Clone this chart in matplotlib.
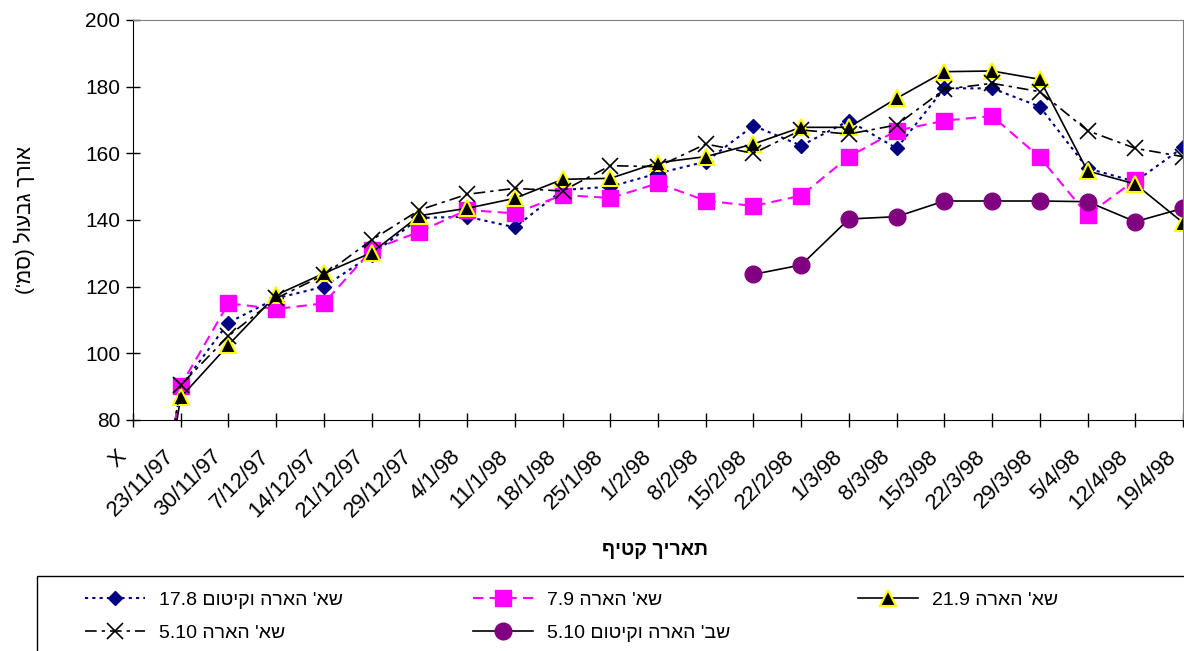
import re
import numpy as np
import matplotlib
matplotlib.use('Agg')
import matplotlib.pyplot as plt
import matplotlib.transforms as mtransforms
from matplotlib.patches import Rectangle

plt.rcParams['font.family'] = ['Liberation Sans', 'DejaVu Sans']

nan = np.nan

# harvest dates (first category is the "X" placeholder)
dates = ['X', '23/11/97', '30/11/97', '7/12/97', '14/12/97', '21/12/97', '29/12/97',
         '4/1/98', '11/1/98', '18/1/98', '25/1/98', '1/2/98', '8/2/98', '15/2/98',
         '22/2/98', '1/3/98', '8/3/98', '15/3/98', '22/3/98', '29/3/98', '5/4/98',
         '12/4/98', '19/4/98']

# stem length (cm) per planting
s_178 = [0, 90, 109.2, 116.5, 120, 129.5, 140.6, 141, 137.8, 149, 150, 154, 157.5,
         168.3, 162.3, 169.8, 161.5, 179.5, 179.5, 174, 155.5, 151.5, 161.8]
s_79 = [0, 90.3, 115, 113.3, 115, 131, 136.5, 143, 142, 147.5, 146.6, 151, 145.8,
        144.2, 147.3, 159, 166.8, 169.8, 171.2, 158.8, 141.5, 152, nan]
s_219 = [0, 86.8, 102.5, 117.5, 124, 130.2, 141.3, 143.5, 146.5, 152.2, 152.5, 157.2, 159,
         162.8, 167.8, 167.8, 176.5, 184.5, 184.7, 182.2, 154.7, 150.8, 139.2]
s_510 = [0, 90.5, 105.2, 116.5, 123.5, 134, 143, 147.7, 149.5, 148.7, 156.3, 156, 162.8,
         160, 167, 165.8, 168.5, 179.2, 181, 178.5, 166.8, 161.5, 159]
s_510b = [nan] * 13 + [123.7, 126.5, 140.3, 141, 145.7, 145.7, 145.7, 145.5, 139.5, 143.5]

names = ["שא' הארה וקיטום 17.8", "שא' הארה 7.9", "שא' הארה 21.9",
         "שא' הארה 5.10", "שב' הארה וקיטום 5.10"]


def heb(s):
    # matplotlib has no bidi support: lay the Hebrew out in visual order
    out = s[::-1]
    out = re.sub(r'[0-9.]+', lambda m: m.group(0)[::-1], out)
    return out.translate(str.maketrans('()', ')('))


W, H = 1184, 651
fig = plt.figure(figsize=(W / 100, H / 100), dpi=100)
ax = fig.add_axes([133 / W, 1 - 420 / H, 1050 / W, 400 / H])

x = np.arange(len(dates))
l1, = ax.plot(x, s_178, color='#000080', ls=(0, (1.5, 2)), lw=1.5, marker='D', ms=7.5,
              mfc='#000080', mec='#000080', label=heb(names[0]))
l2, = ax.plot(x, s_79, color='#FF00FF', ls=(0, (5, 3)), lw=1.5, marker='s', ms=11.5,
              mfc='#FF00FF', mec='#FF00FF', label=heb(names[1]))
l3, = ax.plot(x, s_219, color='black', lw=1.2, marker='^', ms=11, mfc='black',
              mec='#FFFF00', mew=1.5, label=heb(names[2]))
l4, = ax.plot(x, s_510, color='black', ls=(0, (7, 3, 2, 3)), lw=1.2, marker='x', ms=11,
              mew=1.2, label=heb(names[3]))
l5, = ax.plot(x, s_510b, color='black', lw=1.2, marker='o', ms=12, mfc='#800080',
              mec='#800080', label=heb(names[4]))

ax.set_xlim(0, len(dates) - 1)
ax.set_ylim(80, 200)
ax.set_yticks(np.arange(80, 201, 20))
ax.set_xticks(x)
ax.set_xticklabels(dates, rotation=45, ha='right', va='center', rotation_mode='anchor',
                   fontsize=16)
ax.tick_params(axis='both', direction='inout', length=10, width=1)
ax.tick_params(axis='y', pad=4, labelsize=15)
ax.tick_params(axis='x', pad=19)

# nudge the slanted date labels left so they end just before their tick
shift = mtransforms.ScaledTranslation(-0.10, 0, fig.dpi_scale_trans)
for lab in ax.get_xticklabels():
    lab.set_transform(lab.get_transform() + shift)

for side in ['top', 'right']:
    ax.spines[side].set_color('#808080')
for side in ['left', 'bottom']:
    ax.spines[side].set_color('black')

ax.set_ylabel(heb("אורך גבעול (סמ')"), fontsize=15)
ax.yaxis.set_label_coords(-0.093, 0.5)
ax.set_xlabel(heb('תאריך קטיף'), fontsize=14, fontweight='bold')
ax.xaxis.set_label_coords(0.497, -0.305)

# legend box, cut by the figure edges like the original
fig.patches.append(Rectangle((37 / W, -0.05), 1.0, (651 - 576) / H + 0.05,
                             transform=fig.transFigure, fill=False, ec='black', lw=1))

cols = [([l1, l4], 85), ([l2, l5], 473), ([l3], 858)]
for handles, px in cols:
    fig.legend(handles=handles, loc='upper left', bbox_to_anchor=(px / W, 1 - 591 / H),
               frameon=False, borderpad=0, borderaxespad=0, fontsize=14,
               handlelength=3.1, handletextpad=0.7, labelspacing=0.8, numpoints=1)

fig.savefig('out.png', dpi=100)
